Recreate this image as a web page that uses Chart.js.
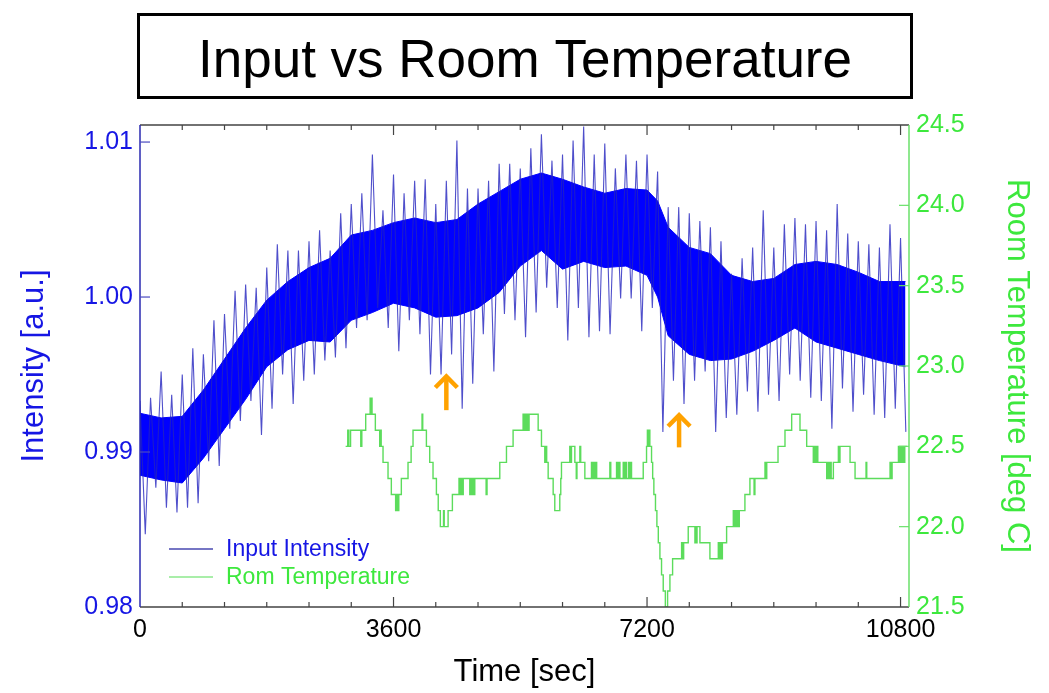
<!DOCTYPE html>
<html>
<head>
<meta charset="utf-8">
<script src="https://cdn.jsdelivr.net/npm/chart.js@4.4.1/dist/chart.umd.min.js"></script>
<style>
  html, body { margin: 0; padding: 0; background: #fff; }
</style>
</head>
<body>
<canvas id="chart" width="1049" height="693"></canvas>
<script>
const chartTitle = "Input vs Room Temperature";
const xTicks = [0, 3600, 7200, 10800];
const intensityTicks = [0.98, 0.99, 1.00, 1.01];
const tempTicks = [21.5, 22.0, 22.5, 23.0, 23.5, 24.0, 24.5];

// dense core of the intensity trace
const bandTimes = [0, 300, 600, 900, 1200, 1500, 1800, 2100, 2400, 2700,
  3000, 3300, 3600, 3900, 4200, 4500, 4800, 5100, 5400, 5700,
  6000, 6300, 6600, 6900, 7200, 7350, 7500, 7800, 8100, 8400,
  8700, 9000, 9300, 9600, 9900, 10200, 10500, 10870];
const bandUpper = [0.9925, 0.9922, 0.9923, 0.9940, 0.9960, 0.9980, 0.9998, 1.0010, 1.0019, 1.0025,
  1.0040, 1.0043, 1.0048, 1.0051, 1.0048, 1.0050, 1.0060, 1.0068, 1.0076, 1.0080,
  1.0076, 1.0071, 1.0067, 1.0070, 1.0069, 1.0062, 1.0045, 1.0032, 1.0028, 1.0014,
  1.0010, 1.0012, 1.0021, 1.0023, 1.0021, 1.0016, 1.0010, 1.0010];
const bandLower = [0.9885, 0.9882, 0.9880, 0.9896, 0.9915, 0.9934, 0.9955, 0.9966, 0.9972, 0.9971,
  0.9985, 0.9990, 0.9996, 0.9993, 0.9987, 0.9988, 0.9993, 1.0003, 1.0020, 1.0030,
  1.0018, 1.0023, 1.0019, 1.0020, 1.0014, 1.0000, 0.9975, 0.9963, 0.9959, 0.9960,
  0.9965, 0.9972, 0.9980, 0.9971, 0.9967, 0.9963, 0.9959, 0.9955];

// spike extremes, one high and one low per 150 s window
const spikeStep = 150;
const spikeHigh = [0.9933, 0.9935, 0.9952, 0.9937, 0.9950, 0.9967, 0.9963, 0.9985, 0.9989, 1.0004,
  1.0008, 1.0006, 1.0019, 1.0034, 1.0030, 1.0030, 1.0036, 1.0043, 1.0030, 1.0054,
  1.0060, 1.0067, 1.0092, 1.0056, 1.0079, 1.0067, 1.0075, 1.0076, 1.0060, 1.0075,
  1.0101, 1.0070, 1.0070, 1.0075, 1.0086, 1.0086, 1.0083, 1.0096, 1.0105, 1.0088,
  1.0092, 1.0101, 1.0110, 1.0092, 1.0099, 1.0083, 1.0092, 1.0088, 1.0092, 1.0081,
  1.0058, 1.0058, 1.0054, 1.0049, 1.0045, 1.0036, 1.0015, 1.0025, 1.0032, 1.0056,
  1.0032, 1.0047, 1.0051, 1.0047, 1.0049, 1.0043, 1.0060, 1.0041, 1.0036, 1.0034,
  1.0032, 1.0047, 1.0038];
const spikeLow = [0.9847, 0.9877, 0.9864, 0.9861, 0.9864, 0.9867, 0.9894, 0.9891, 0.9915, 0.9920,
  0.9933, 0.9911, 0.9928, 0.9950, 0.9931, 0.9946, 0.9950, 0.9959, 0.9961, 0.9967,
  0.9980, 0.9985, 0.9993, 0.9980, 0.9965, 0.9985, 0.9976, 0.9950, 0.9950, 0.9963,
  0.9928, 0.9944, 0.9976, 0.9952, 0.9989, 0.9985, 0.9974, 0.9990, 1.0006, 0.9993,
  0.9972, 0.9993, 0.9974, 0.9978, 0.9976, 0.9999, 0.9999, 0.9978, 0.9993, 0.9913,
  0.9946, 0.9931, 0.9946, 0.9952, 0.9913, 0.9922, 0.9924, 0.9939, 0.9926, 0.9937,
  0.9933, 0.9950, 0.9946, 0.9935, 0.9933, 0.9915, 0.9941, 0.9926, 0.9937, 0.9924,
  0.9922, 0.9928, 0.9913];

// room temperature, value holds from its time until the next one
const tempTimes = [2920, 2950, 2965, 2990, 3135, 3150, 3205, 3268, 3278, 3285,
  3295, 3342, 3404, 3415, 3425, 3451, 3522, 3569, 3630, 3640,
  3655, 3675, 3711, 3806, 3850, 3877, 4005, 4015, 4067, 4114,
  4161, 4209, 4235, 4265, 4310, 4320, 4375, 4436, 4530, 4545,
  4560, 4575, 4590, 4683, 4695, 4710, 4725, 4740, 4754, 4915,
  4928, 5109, 5204, 5298, 5440, 5455, 5470, 5480, 5495, 5510,
  5525, 5654, 5701, 5748, 5760, 5775, 5796, 5867, 5890, 5961,
  5975, 5985, 6103, 6115, 6127, 6175, 6195, 6205, 6246, 6258,
  6317, 6411, 6425, 6440, 6455, 6470, 6485, 6672, 6685, 6767,
  6780, 6800, 6815, 6862, 6875, 6895, 6910, 6940, 6955, 6970,
  6980, 7146, 7193, 7205, 7215, 7230, 7240, 7264, 7280, 7297,
  7320, 7340, 7360, 7383, 7406, 7430, 7460, 7492, 7525, 7563,
  7691, 7710, 7720, 7785, 7880, 7890, 7900, 7910, 7951, 8093,
  8212, 8225, 8240, 8250, 8270, 8330, 8425, 8440, 8460, 8475,
  8490, 8500, 8510, 8590, 8661, 8720, 8732, 8875, 8885, 8900,
  9060, 9159, 9254, 9372, 9467, 9561, 9575, 9590, 9610, 9625,
  9751, 9770, 9780, 9800, 9815, 9846, 9917, 9930, 9940, 10083,
  10154, 10310, 10320, 10651, 10665, 10680, 10770, 10785, 10795, 10805,
  10815, 10825, 10835, 10850, 10860, 10890];
const tempValues = [22.5, 22.6, 22.5, 22.6, 22.5, 22.6, 22.7, 22.8, 22.7, 22.8,
  22.7, 22.6, 22.5, 22.6, 22.5, 22.4, 22.3, 22.2, 22.1, 22.2,
  22.1, 22.2, 22.3, 22.4, 22.5, 22.6, 22.7, 22.6, 22.5, 22.4,
  22.3, 22.2, 22.1, 22.0, 22.1, 22.0, 22.1, 22.2, 22.3, 22.2,
  22.3, 22.2, 22.3, 22.2, 22.3, 22.2, 22.3, 22.2, 22.3, 22.2,
  22.3, 22.4, 22.5, 22.6, 22.7, 22.6, 22.7, 22.6, 22.7, 22.6,
  22.7, 22.6, 22.5, 22.4, 22.5, 22.4, 22.3, 22.2, 22.1, 22.2,
  22.3, 22.4, 22.5, 22.4, 22.5, 22.4, 22.3, 22.4, 22.5, 22.4,
  22.3, 22.4, 22.3, 22.4, 22.3, 22.4, 22.3, 22.4, 22.3, 22.4,
  22.3, 22.4, 22.3, 22.4, 22.3, 22.4, 22.3, 22.4, 22.3, 22.4,
  22.3, 22.4, 22.5, 22.6, 22.5, 22.6, 22.5, 22.4, 22.3, 22.2,
  22.1, 22.0, 21.9, 21.8, 21.7, 21.6, 21.5, 21.6, 21.7, 21.8,
  21.9, 21.8, 21.9, 22.0, 21.9, 22.0, 21.9, 22.0, 21.9, 21.8,
  21.9, 21.8, 21.9, 21.8, 21.9, 22.0, 22.1, 22.0, 22.1, 22.0,
  22.1, 22.0, 22.1, 22.2, 22.3, 22.2, 22.3, 22.4, 22.3, 22.4,
  22.5, 22.6, 22.7, 22.6, 22.5, 22.4, 22.5, 22.4, 22.5, 22.4,
  22.3, 22.4, 22.3, 22.4, 22.3, 22.4, 22.5, 22.4, 22.5, 22.4,
  22.3, 22.4, 22.3, 22.4, 22.3, 22.4, 22.5, 22.4, 22.5, 22.4,
  22.5, 22.4, 22.5, 22.4, 22.5, 22.5];

// orange markers: time, tip and tail on the intensity axis
const arrowTimes = [4350, 7655];
const arrowTips = [0.9950, 0.9925];
const arrowTails = [0.9927, 0.9903];

const BLUE = "#1616e4";
const GREEN = "#3de83d";
const GREEN_LINE = "#5cdc5c";
const FONT = "'Liberation Sans', Arial, sans-serif";

const spikeData = [];
spikeHigh.forEach((v, i) => {
  spikeData.push({ x: i * spikeStep, y: v });
  spikeData.push({ x: i * spikeStep + spikeStep / 2, y: spikeLow[i] });
});
const upperData = bandTimes.map((t, i) => ({ x: t, y: bandUpper[i] }));
const lowerData = bandTimes.map((t, i) => ({ x: t, y: bandLower[i] }));
const tempData = tempTimes.map((t, i) => ({ x: t, y: tempValues[i] }));

const decorations = {
  id: "decorations",
  afterDatasetsDraw(chart) {
    const { ctx, chartArea: a, scales } = chart;
    const x = scales.x, y = scales.y, y2 = scales.y2;
    ctx.save();

    // arrows
    ctx.strokeStyle = "#ffa200";
    ctx.lineWidth = 4.5;
    ctx.lineCap = "butt";
    ctx.lineJoin = "miter";
    arrowTimes.forEach((t, i) => {
      const px = x.getPixelForValue(t);
      const tip = y.getPixelForValue(arrowTips[i]);
      const tail = y.getPixelForValue(arrowTails[i]);
      ctx.beginPath();
      ctx.moveTo(px, tail);
      ctx.lineTo(px, tip + 3);
      ctx.stroke();
      ctx.beginPath();
      ctx.moveTo(px - 11, tip + 13);
      ctx.lineTo(px, tip + 2);
      ctx.lineTo(px + 11, tip + 13);
      ctx.stroke();
    });

    // frame
    ctx.lineWidth = 1.5;
    ctx.strokeStyle = "#444";
    ctx.beginPath();
    ctx.moveTo(a.left, a.top); ctx.lineTo(a.right, a.top);
    ctx.moveTo(a.left, a.bottom); ctx.lineTo(a.right, a.bottom);
    ctx.stroke();
    ctx.strokeStyle = "#2a2ab0";
    ctx.beginPath(); ctx.moveTo(a.left, a.top); ctx.lineTo(a.left, a.bottom); ctx.stroke();
    ctx.strokeStyle = "#6ae06a";
    ctx.beginPath(); ctx.moveTo(a.right, a.top); ctx.lineTo(a.right, a.bottom); ctx.stroke();

    // inward ticks on the time axis, bottom and top
    ctx.strokeStyle = "#444";
    ctx.lineWidth = 1.2;
    for (let t = 600; t < x.max; t += 600) {
      const px = x.getPixelForValue(t);
      const len = t % 3600 === 0 ? 10 : 5;
      ctx.beginPath();
      ctx.moveTo(px, a.bottom); ctx.lineTo(px, a.bottom - len);
      ctx.moveTo(px, a.top); ctx.lineTo(px, a.top + len);
      ctx.stroke();
    }
    ctx.strokeStyle = "#4a4ac0";
    intensityTicks.slice(1).forEach(v => {
      const py = y.getPixelForValue(v);
      ctx.beginPath(); ctx.moveTo(a.left, py); ctx.lineTo(a.left + 10, py); ctx.stroke();
    });
    ctx.strokeStyle = "#6ae06a";
    tempTicks.slice(1, -1).forEach(v => {
      const py = y2.getPixelForValue(v);
      ctx.beginPath(); ctx.moveTo(a.right, py); ctx.lineTo(a.right - 10, py); ctx.stroke();
    });

    // legend in the lower left corner
    const rows = [
      { text: chart.data.datasets[0].label, line: "#4848b0", color: BLUE },
      { text: chart.data.datasets[3].label, line: "#8ce88c", color: GREEN }
    ];
    ctx.font = "23px " + FONT;
    ctx.textBaseline = "middle";
    ctx.textAlign = "left";
    rows.forEach((r, i) => {
      const ly = a.bottom - 58 + i * 28;
      ctx.strokeStyle = r.line;
      ctx.lineWidth = 1.5;
      ctx.beginPath(); ctx.moveTo(a.left + 29, ly); ctx.lineTo(a.left + 73, ly); ctx.stroke();
      ctx.fillStyle = r.color;
      ctx.fillText(r.text, a.left + 86, ly + 1);
    });
    ctx.restore();
  },
  afterDraw(chart) {
    const ctx = chart.ctx;
    ctx.save();
    ctx.strokeStyle = "#000";
    ctx.lineWidth = 3;
    ctx.strokeRect(138.5, 14.5, 773, 83);
    ctx.fillStyle = "#000";
    ctx.font = "53px " + FONT;
    ctx.textAlign = "center";
    ctx.textBaseline = "alphabetic";
    ctx.fillText(chartTitle, 525, 77);
    ctx.restore();
  }
};

new Chart(document.getElementById("chart"), {
  type: "line",
  data: {
    datasets: [
      {
        label: "Input Intensity",
        data: spikeData,
        yAxisID: "y",
        borderColor: "rgba(35,35,190,0.8)",
        borderWidth: 1.1,
        pointRadius: 0,
        fill: false
      },
      {
        label: "core upper",
        data: upperData,
        yAxisID: "y",
        borderColor: "#0000ff",
        backgroundColor: "#0000ff",
        borderWidth: 1,
        pointRadius: 0,
        fill: "+1"
      },
      {
        label: "core lower",
        data: lowerData,
        yAxisID: "y",
        borderColor: "#0000ff",
        borderWidth: 1,
        pointRadius: 0,
        fill: false
      },
      {
        label: "Rom Temperature",
        data: tempData,
        yAxisID: "y2",
        borderColor: GREEN_LINE,
        borderWidth: 1.4,
        pointRadius: 0,
        stepped: true,
        fill: false
      }
    ]
  },
  options: {
    responsive: false,
    animation: false,
    devicePixelRatio: 1,
    layout: { padding: { top: 125, left: 0, right: 0, bottom: 0 } },
    plugins: {
      legend: { display: false },
      tooltip: { enabled: false }
    },
    scales: {
      x: {
        type: "linear",
        position: "bottom",
        min: 0,
        max: 10920,
        afterBuildTicks: s => { s.ticks = xTicks.map(v => ({ value: v })); },
        afterFit: s => { s.height = 86; },
        grid: { display: false, drawTicks: false },
        border: { display: false },
        ticks: { color: "#000", font: { family: FONT, size: 25 }, padding: 8, maxRotation: 0, autoSkip: false, callback: v => String(v) },
        title: { display: true, text: "Time [sec]", color: "#000", font: { family: FONT, size: 31 }, padding: { top: 0, bottom: 2 } }
      },
      y: {
        type: "linear",
        position: "left",
        min: 0.98,
        max: 1.0111,
        afterBuildTicks: s => { s.ticks = intensityTicks.map(v => ({ value: v })); },
        afterFit: s => { s.width = 140; },
        grid: { display: false, drawTicks: false },
        border: { display: false },
        ticks: { color: BLUE, font: { family: FONT, size: 25 }, padding: 7, callback: v => v.toFixed(2) },
        title: { display: true, text: "Intensity [a.u.]", color: BLUE, font: { family: FONT, size: 31 }, padding: { top: 16, bottom: 0 } }
      },
      y2: {
        type: "linear",
        position: "right",
        min: 21.5,
        max: 24.5,
        afterBuildTicks: s => { s.ticks = tempTicks.map(v => ({ value: v })); },
        afterFit: s => { s.width = 140; },
        grid: { display: false, drawTicks: false },
        border: { display: false },
        ticks: { color: GREEN, font: { family: FONT, size: 25 }, padding: 7, callback: v => v.toFixed(1) },
        title: { display: true, text: "Room Temperature [deg C]", color: GREEN, font: { family: FONT, size: 31 }, padding: { top: 14, bottom: 0 } }
      }
    }
  },
  plugins: [decorations]
});
</script>
</body>
</html>
